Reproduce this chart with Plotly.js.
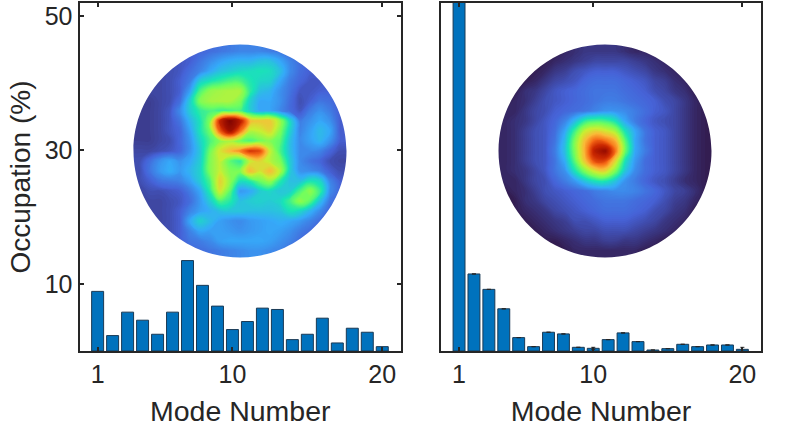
<!DOCTYPE html>
<html>
<head>
<meta charset="utf-8">
<script src="https://cdn.plot.ly/plotly-3.0.1.min.js"></script>
<style>html,body{margin:0;padding:0;background:#fff}</style>
</head>
<body>
<div id="fig" style="width:800px;height:433px"></div>
<script>
var modes = [1,2,3,4,5,6,7,8,9,10,11,12,13,14,15,16,17,18,19,20];
var occLeft = [8.9,2.3,5.8,4.6,2.5,5.8,13.5,9.8,6.7,3.2,4.4,6.4,6.2,1.7,2.5,4.9,1.2,3.4,2.8,0.65];
var occRight = [60,11.5,9.2,6.3,2.0,0.65,2.8,2.55,0.55,0.4,1.7,2.7,1.4,0.15,0.35,1.0,0.65,0.9,0.9,0.25];
var errRight = [0,0,0,0,0,0,0,0,0,0.15,0,0,0,0,0,0,0,0,0,0.3];
var yTicks = [10,30,50];
var xTicks = [1,10,20];

// intensity, top row first, 10px apart
var imgLeft = [
[.07,.07,.07,.08,.09,.1,.11,.12,.13,.14,.15,.15,.15,.14,.13,.12,.11,.1,.1,.1,.1],
[.07,.07,.07,.08,.09,.1,.13,.16,.19,.21,.22,.22,.24,.24,.2,.15,.12,.1,.1,.1,.1],
[.07,.07,.07,.08,.09,.12,.15,.2,.24,.26,.28,.29,.3,.29,.24,.16,.12,.1,.1,.1,.1],
[.07,.07,.07,.08,.1,.14,.26,.3,.33,.36,.36,.31,.28,.27,.2,.14,.11,.09,.09,.1,.1],
[.07,.07,.07,.08,.1,.19,.36,.44,.46,.47,.47,.33,.24,.22,.17,.13,.09,.09,.1,.1,.1],
[.06,.06,.07,.08,.12,.26,.42,.46,.47,.47,.42,.27,.2,.2,.17,.12,.08,.1,.13,.12,.1],
[.06,.06,.07,.09,.16,.26,.33,.36,.34,.35,.36,.27,.2,.2,.16,.12,.09,.14,.17,.14,.1],
[.06,.06,.07,.09,.13,.22,.3,.42,.82,.98,.85,.6,.58,.58,.45,.28,.14,.17,.2,.17,.1],
[.06,.06,.07,.09,.11,.19,.3,.4,.72,.9,.7,.48,.5,.55,.42,.27,.15,.19,.23,.2,.1],
[.06,.06,.07,.08,.11,.17,.27,.36,.43,.46,.4,.36,.4,.42,.38,.24,.16,.19,.22,.17,.1],
[.07,.07,.08,.09,.11,.17,.25,.4,.52,.6,.66,.78,.75,.5,.36,.24,.16,.16,.15,.11,.08],
[.08,.12,.17,.2,.17,.2,.26,.42,.5,.38,.33,.5,.55,.48,.42,.26,.16,.13,.11,.08,.07],
[.08,.13,.18,.21,.18,.22,.27,.42,.5,.42,.42,.6,.52,.6,.48,.26,.17,.16,.14,.1,.08],
[.08,.1,.13,.14,.15,.19,.26,.36,.56,.44,.3,.32,.4,.45,.32,.24,.24,.3,.28,.15,.1],
[.07,.08,.08,.09,.1,.14,.2,.32,.52,.38,.18,.2,.26,.28,.25,.26,.36,.44,.34,.16,.11],
[.07,.07,.07,.08,.09,.12,.18,.26,.36,.32,.24,.26,.27,.26,.28,.35,.44,.38,.24,.13,.11],
[.07,.07,.07,.08,.1,.15,.19,.21,.24,.25,.25,.24,.24,.24,.25,.3,.28,.22,.16,.11,.11],
[.07,.07,.07,.08,.1,.2,.27,.23,.19,.17,.16,.18,.19,.2,.21,.2,.18,.15,.12,.1,.1],
[.08,.08,.08,.08,.1,.15,.2,.19,.19,.18,.17,.18,.19,.2,.19,.17,.14,.12,.1,.1,.1],
[.08,.08,.08,.08,.1,.13,.14,.16,.19,.2,.2,.2,.2,.19,.17,.15,.12,.1,.1,.1,.1],
[.08,.08,.08,.08,.1,.11,.12,.13,.14,.15,.16,.17,.17,.16,.15,.12,.1,.1,.1,.1,.1]
];
var imgRight = [
[.02,.02,.02,.02,.02,.02,.03,.04,.05,.05,.05,.05,.04,.03,.03,.02,.02,.02,.02,.02,.02],
[.02,.02,.02,.02,.02,.03,.04,.05,.06,.07,.07,.07,.07,.06,.05,.04,.03,.02,.02,.02,.02],
[.02,.02,.02,.02,.03,.05,.06,.08,.09,.1,.1,.1,.09,.08,.07,.05,.04,.03,.02,.02,.02],
[.02,.02,.02,.03,.05,.07,.08,.09,.11,.12,.12,.12,.11,.1,.09,.07,.06,.04,.03,.02,.02],
[.02,.02,.04,.05,.07,.09,.1,.11,.12,.13,.13,.13,.12,.11,.1,.08,.07,.05,.04,.02,.02],
[.02,.03,.04,.06,.08,.09,.1,.11,.12,.13,.14,.14,.13,.12,.11,.1,.08,.07,.05,.03,.02],
[.03,.03,.05,.07,.08,.1,.11,.12,.13,.15,.17,.17,.16,.14,.12,.1,.09,.07,.05,.03,.02],
[.03,.04,.05,.07,.09,.11,.15,.23,.33,.36,.35,.3,.2,.14,.11,.09,.08,.07,.05,.03,.02],
[.03,.04,.06,.08,.09,.12,.2,.35,.5,.55,.52,.46,.3,.2,.13,.1,.09,.07,.05,.03,.02],
[.03,.04,.06,.08,.09,.13,.23,.42,.6,.72,.7,.62,.38,.2,.13,.1,.09,.07,.05,.03,.02],
[.03,.04,.06,.08,.09,.14,.24,.42,.62,.85,.92,.7,.4,.2,.14,.1,.09,.07,.05,.03,.02],
[.03,.04,.06,.08,.09,.13,.21,.38,.58,.75,.75,.55,.3,.18,.12,.1,.09,.07,.05,.03,.02],
[.03,.04,.05,.07,.09,.13,.17,.3,.42,.52,.55,.42,.25,.16,.12,.1,.09,.07,.05,.03,.02],
[.03,.03,.05,.07,.08,.11,.14,.18,.25,.3,.31,.25,.17,.14,.11,.09,.08,.06,.04,.03,.02],
[.02,.03,.04,.06,.08,.09,.1,.11,.12,.14,.15,.16,.16,.15,.13,.11,.09,.07,.06,.04,.02],
[.02,.02,.04,.05,.07,.08,.09,.1,.11,.12,.13,.13,.13,.12,.11,.1,.08,.06,.05,.03,.02],
[.02,.02,.03,.04,.05,.07,.08,.09,.1,.11,.12,.12,.12,.11,.1,.08,.07,.05,.04,.02,.02],
[.02,.02,.02,.03,.04,.05,.06,.08,.08,.09,.1,.1,.1,.09,.08,.07,.05,.04,.03,.02,.02],
[.02,.02,.02,.02,.03,.04,.05,.06,.07,.07,.08,.08,.08,.07,.06,.05,.04,.03,.02,.02,.02],
[.02,.02,.02,.02,.02,.02,.03,.04,.05,.05,.06,.06,.05,.05,.04,.03,.02,.02,.02,.02,.02],
[.02,.02,.02,.02,.02,.02,.02,.03,.03,.03,.03,.03,.03,.03,.02,.02,.02,.02,.02,.02,.02]
];

var turbo = [[0,'#30123b'],[.1,'#4662d7'],[.2,'#36aaf9'],[.3,'#1ae4b6'],[.4,'#72fe5e'],[.5,'#c8ef34'],
  [.6,'#faba39'],[.7,'#f66b19'],[.8,'#cb2a04'],[.9,'#a01202'],[1,'#7a0403']];

var W = 800, H = 433;
var ink = '#262626';
var barColor = '#0072bd';
var R = 10.65;    // disc radius, 10px to the unit
var BOX = 10.8;   // half size of the inset axes and mask

function px(a,b){ return [a/W, b/W]; }
function py(top,bottom){ return [(H-bottom)/H, (H-top)/H]; }

// repeat the outer row and column, they sit behind the mask
function pad(z){
  var rows = z.map(function(r){ return [r[0]].concat(r, [r[r.length-1]]); });
  return [rows[0]].concat(rows, [rows[rows.length-1]]);
}

function bars(y, xa, ya, err){
  var t = {type:'bar', x:modes, y:y, xaxis:xa, yaxis:ya, width:0.8,
    marker:{color:barColor, line:{color:'#1a3a55', width:1}}, hoverinfo:'none'};
  if(err) t.error_y = {type:'data', array:err, color:ink, thickness:1, width:2};
  return t;
}
function inset(z, xa, ya){
  return {type:'contour', z:pad(z), x0:-11, dx:1, y0:-11, dy:1, xaxis:xa, yaxis:ya, zmin:0, zmax:1,
    autocontour:false, contours:{start:0.004, end:1, size:0.004, coloring:'fill', showlines:false},
    line:{width:0, smoothing:1.3}, colorscale:turbo, showscale:false, hoverinfo:'none'};
}
function xax(dom, anchor, title){
  return {domain:dom, anchor:anchor, range:[-0.21,21.25], tickvals:xTicks, ticktext:xTicks.map(String),
    ticks:'inside', ticklen:4, tickwidth:2, tickcolor:ink, mirror:'ticks', showline:true, linewidth:2, linecolor:ink,
    showgrid:false, zeroline:false, tickfont:{family:'Liberation Sans', size:25, color:ink},
    title:{text:title, standoff:14, font:{family:'Liberation Sans', size:28.5, color:ink}}, automargin:false};
}
function yax(anchor, vals){
  return {domain:py(3,351), anchor:anchor, range:[0,51.95], tickvals:vals, ticktext:vals.map(String),
    ticks:vals.length?'inside':'', ticklen:4, tickwidth:2, tickcolor:ink, mirror:vals.length?'ticks':true, showline:true, linewidth:2, linecolor:ink,
    showgrid:false, zeroline:false, tickfont:{family:'Liberation Sans', size:25, color:ink}, automargin:false};
}
function hidden(dom, anchor, r){
  return {domain:dom, anchor:anchor, range:r, visible:false, fixedrange:true};
}
// white square with a round hole, trims the contour fill to a disc
function mask(xa, ya){
  var k = R*0.5523;
  var path = 'M'+(-BOX)+','+(-BOX)+' L'+BOX+','+(-BOX)+' L'+BOX+','+BOX+' L'+(-BOX)+','+BOX+' Z '+
    'M'+R+',0 C'+R+','+k+' '+k+','+R+' 0,'+R+' C'+(-k)+','+R+' '+(-R)+','+k+' '+(-R)+',0 '+
    'C'+(-R)+','+(-k)+' '+(-k)+','+(-R)+' 0,'+(-R)+' C'+k+','+(-R)+' '+R+','+(-k)+' '+R+',0 Z';
  return {type:'path', path:path, xref:xa, yref:ya, layer:'above', fillcolor:'#fff', fillrule:'evenodd', line:{width:0}};
}

var data = [
  bars(occLeft,'x','y'),
  bars(occRight,'x2','y2',errRight),
  inset(imgLeft,'x3','y3'),
  inset(imgRight,'x4','y4')
];

var ly = yax('x', yTicks);
ly.title = {text:'Occupation (%)', standoff:6, font:{family:'Liberation Sans', size:28, color:ink}};

var layout = {
  width:W, height:H, margin:{l:0,r:0,t:0,b:0}, paper_bgcolor:'#fff', plot_bgcolor:'#fff',
  showlegend:false, bargap:0.2,
  xaxis:xax(px(79.5,401),'y','Mode Number'),
  yaxis:ly,
  xaxis2:xax(px(441,761),'y2','Mode Number'),
  yaxis2:yax('x2',[]),
  xaxis3:hidden(px(240-108,240+108),'y3',[-BOX,BOX]),
  yaxis3:hidden(py(151-108,151+108),'x3',[BOX,-BOX]),
  xaxis4:hidden(px(605-108,605+108),'y4',[-BOX,BOX]),
  yaxis4:hidden(py(151-108,151+108),'x4',[BOX,-BOX]),
  shapes:[mask('x3','y3'), mask('x4','y4')]
};

Plotly.newPlot('fig', data, layout, {displayModeBar:false, staticPlot:true});
</script>
</body>
</html>
